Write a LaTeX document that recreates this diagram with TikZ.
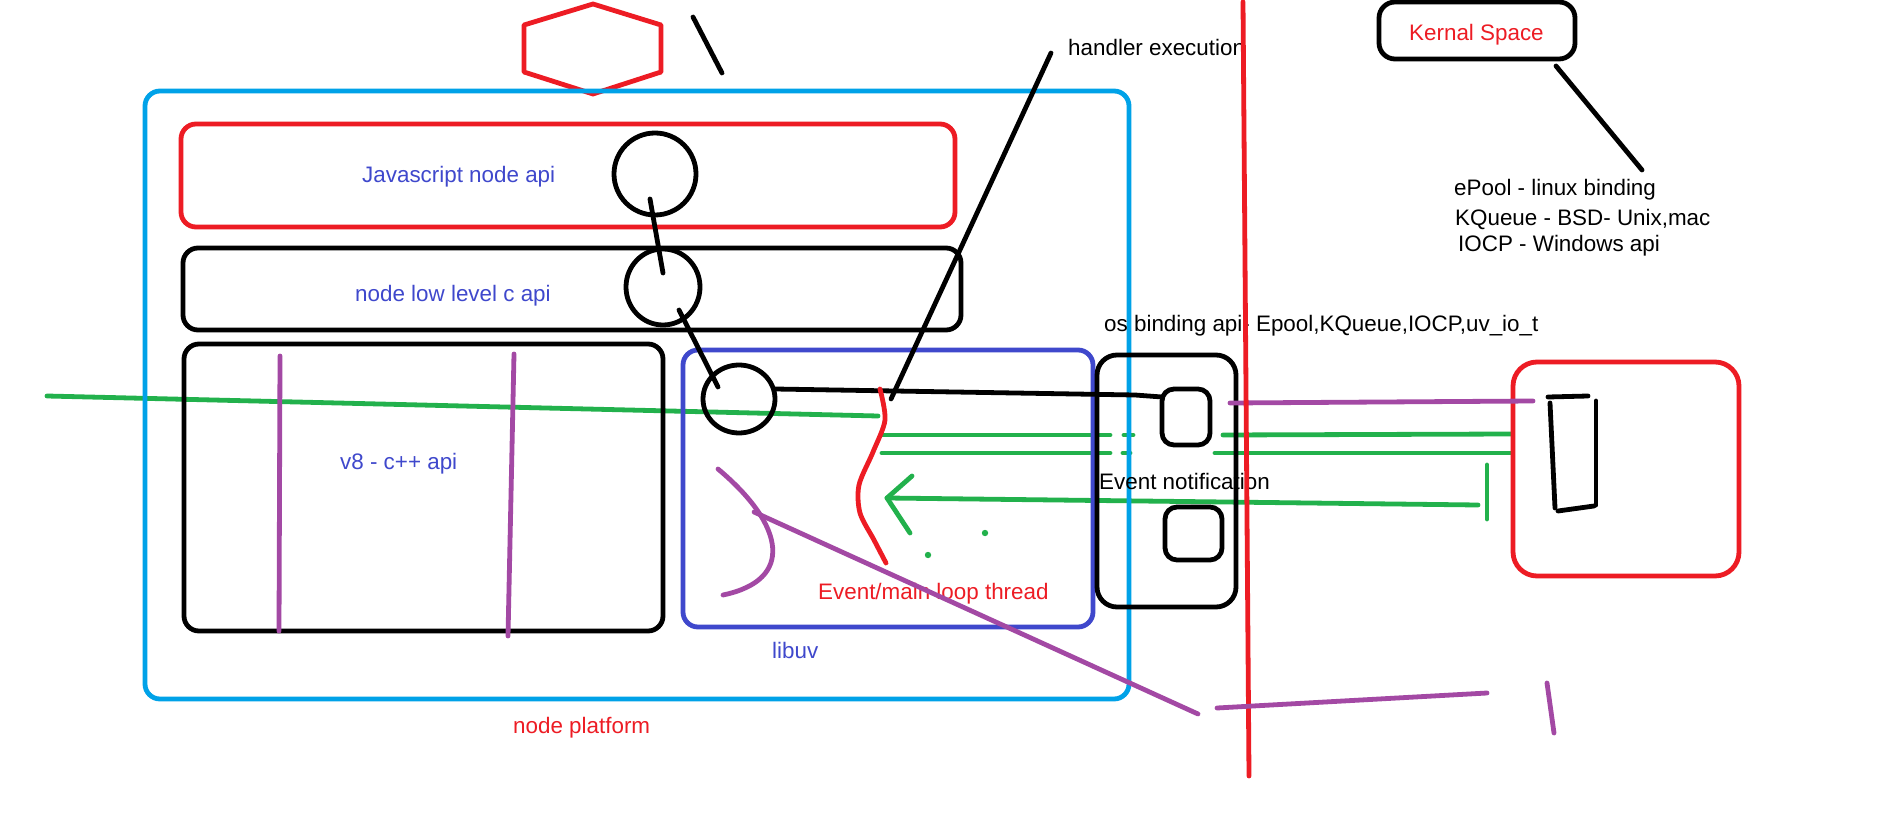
\documentclass[tikz,border=0pt]{standalone}
\usepackage{fontspec}
\setmainfont{Liberation Sans}
\usetikzlibrary{fit,shapes.geometric}
\definecolor{pred}{RGB}{237,28,36}
\definecolor{pblue}{RGB}{0,162,232}
\definecolor{pindigo}{RGB}{63,72,204}
\definecolor{pgreen}{RGB}{34,177,76}
\definecolor{ppurple}{RGB}{163,73,164}
\begin{document}
\begin{tikzpicture}[x=1pt,y=-1pt,
  stroke/.style={line width=4.8pt, line cap=round, line join=round},
  box/.style={draw, stroke, rounded corners=#1, inner sep=0pt, outer sep=0pt},
  box/.default=15pt,
  ring/.style={draw, stroke, ellipse, inner sep=0pt, outer sep=0pt},
  lbl/.style={inner sep=0pt, anchor=west, yshift=-2.5pt, font=\fontsize{22.4}{26}\selectfont},
  gline/.style={stroke, draw=pgreen},
  pline/.style={stroke, draw=ppurple},
  kline/.style={stroke, draw=black},
  rline/.style={stroke, draw=pred},
]
\fill[white] (0,0) rectangle (1898,834);
\useasboundingbox (0,0) rectangle (1898,834);

% ---------- green strokes (under the boxes)
\coordinate (g0a) at (47,396);   \coordinate (g0b) at (878,416);
\coordinate (gA1) at (882,435);  \coordinate (gA2) at (1110,435);
\coordinate (gA3) at (1124,435); \coordinate (gA4) at (1133,435);
\coordinate (gA5) at (1223,435); \coordinate (gA6) at (1512,434);
\coordinate (gB1) at (882,453);  \coordinate (gB2) at (1110,453);
\coordinate (gB3) at (1123,453); \coordinate (gB4) at (1130,453);
\coordinate (gB5) at (1215,453); \coordinate (gB6) at (1510,453);
\coordinate (arrTip) at (887,498); \coordinate (arrEnd) at (1478,505);
\coordinate (arrU) at (912,476);   \coordinate (arrL) at (910,533);
\coordinate (barT) at (1487,465);  \coordinate (barB) at (1487,519);
\draw[gline] (g0a) -- (g0b);
\draw[gline] (gA1) -- (gA2);
\draw[gline] (gA3) -- (gA4);
\draw[gline] (gA5) -- (gA6);
\draw[gline] (gB1) -- (gB2);
\draw[gline] (gB3) -- (gB4);
\draw[gline] (gB5) -- (gB6);
\draw[gline] (arrEnd) -- (arrTip);
\draw[gline] (arrU) -- (arrTip) -- (arrL);
\draw[gline] (barT) -- (barB);
\fill[pgreen] (985,533) circle (3.2pt) (928,555) circle (3.2pt);

% ---------- boxes
\draw[rline] (593,4) -- (661,25) -- (661,72) -- (593,94) -- (524,72) -- (524,25) -- cycle;
\node[box, draw=pblue, fit={(145,91) (1129,699)}] (platform) {};
\node[box, draw=pred, fit={(181,124) (955,227)}] (jsapi) {};
\node[box, fit={(183,248) (961,330)}] (capi) {};
\node[box, fit={(184,344) (663,631)}] (v8) {};
\node[box, draw=pindigo, fit={(683,350) (1093,627)}] (libuv) {};
\node[box=20pt, fit={(1097,355) (1236,607)}] (os) {};
\node[box=12pt, fit={(1162,389) (1210,445)}] (sb1) {};
\node[box=12pt, fit={(1165,507) (1222,560)}] (sb2) {};
\node[box=16pt, fit={(1379,2) (1575,59)}] (kernel) {};
\node[box=24pt, draw=pred, fit={(1513,362) (1739,576)}] (kbox) {};

% ---------- circles
\node[ring, minimum width=82pt, minimum height=82pt] (c1) at (655,174) {};
\node[ring, minimum width=74pt, minimum height=76pt] (c2) at (663,287) {};
\node[ring, minimum width=72pt, minimum height=68pt] (c3) at (739,399) {};

% ---------- black strokes
\coordinate (s1a) at (693,17);   \coordinate (s1b) at (722,73);
\coordinate (l12a) at (650,199); \coordinate (l12b) at (663,273);
\coordinate (l23a) at (679,310); \coordinate (l23b) at (718,387);
\coordinate (hA) at (1051,53);   \coordinate (hB) at (891,399);
\coordinate (l3a) at (775,389);  \coordinate (l3m) at (1135,395);
\coordinate (l3b) at (1162,397);
\coordinate (kA) at (1556,66);   \coordinate (kB) at (1642,170);
\draw[kline] (s1a) -- (s1b);
\draw[kline] (l12a) -- (l12b);
\draw[kline] (l23a) -- (l23b);
\draw[kline] (hA) -- (hB);
\draw[kline] (l3a) -- (l3m) -- (l3b);
\draw[kline] (kA) -- (kB);
\draw[kline] (1548,397) -- (1588,396);
\draw[kline] (1550,403) -- (1555,508);
\draw[kline] (1596,401) -- (1596,505);
\draw[kline] (1558,511) -- (1594,506);

% ---------- texts
\node[lbl, text=pindigo] (tjs) at (362,174) {Javascript node api};
\node[lbl, text=pindigo] (tc) at (355,293) {node low level c api};
\node[lbl, text=pindigo] (tv8) at (340,461) {v8 - c++ api};
\node[lbl, text=pindigo] (tlibuv) at (772,648) {libuv};
\node[lbl, text=pred] (tplat) at (513,725) {node platform};
\node[lbl, text=pred] (tloop) at (818,591) {Event/main loop thread};
\node[lbl] (tnotif) at (1099,479) {Event notification};
\node[lbl] (thandler) at (1068,45) {handler execution};
\node[lbl, text=pred] (tkernel) at (1409,32) {Kernal Space};
\node[lbl] (tos) at (1104,323) {os binding api- Epool,KQueue,IOCP,uv\_io\_t};
\node[lbl] (te1) at (1454,187) {ePool - linux binding};
\node[lbl] (te2) at (1455,217) {KQueue - BSD- Unix,mac};
\node[lbl] (te3) at (1458,243) {IOCP - Windows api};

% ---------- purple / red strokes
\draw[pline] (280,356) -- (279,631);
\draw[pline] (514,354) -- (508,636);
\draw[pline] (1230,403) -- (1533,401);
\draw[rline] (1243,2) -- (1249,776);
\draw[rline] plot[smooth] coordinates {(880,389) (885,420) (873,452) (859,485) (860,513) (874,540) (886,563)};
\draw[pline] (718,469) .. controls (785,525) and (795,580) .. (723,595);
\draw[pline] (754,512) -- (1198,714);
\draw[pline] (1217,708) -- (1487,693);
\draw[pline] (1547,683) -- (1554,733);
\end{tikzpicture}
\end{document}
